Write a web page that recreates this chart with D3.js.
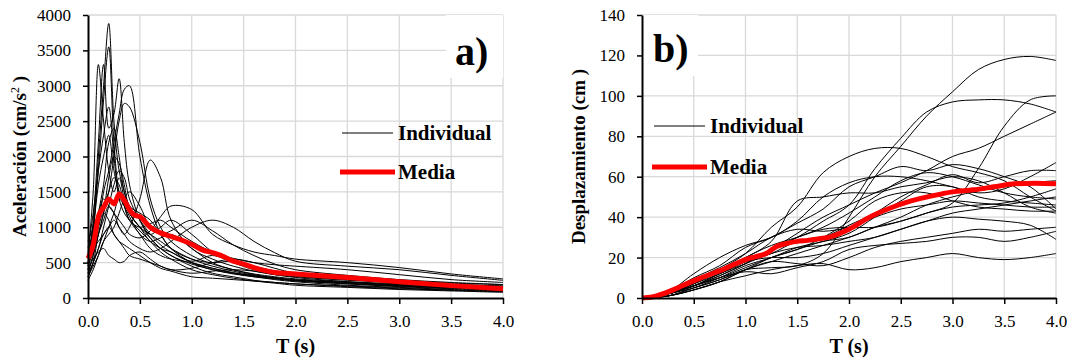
<!DOCTYPE html>
<html>
<head>
<meta charset="utf-8">
<script src="https://cdn.jsdelivr.net/npm/d3@7"></script>
<style>
body { margin: 0; background: #fff; }
svg text { font-family: "Liberation Serif", "DejaVu Serif", serif; fill: #000; }
</style>
</head>
<body>
<div id="chart"></div>
<script>
// periods (s)
var xTicks = [0, 0.5, 1, 1.5, 2, 2.5, 3, 3.5, 4];
var yTicksA = [0, 500, 1000, 1500, 2000, 2500, 3000, 3500, 4000];
var yTicksD = [0, 20, 40, 60, 80, 100, 120, 140];
var legendNames = ["Individual", "Media"];

// a) spectral acceleration, individual records (cm/s2)
var periodsA = [0, 0.05, 0.1, 0.15, 0.2, 0.25, 0.3, 0.35, 0.4, 0.5, 0.6, 0.7, 0.8, 1.0, 1.2, 1.4, 1.6, 1.8, 2.0, 2.5, 3.0, 3.5, 4.0];
var accRecords = [
	[400, 900, 2000, 3000, 3880, 2500, 1800, 1500, 1200, 1000, 800, 700, 600, 450, 350, 300, 250, 220, 200, 160, 130, 110, 90],
	[500, 1000, 1800, 2800, 3550, 2200, 1500, 1300, 1100, 900, 700, 600, 550, 500, 420, 350, 300, 260, 230, 180, 150, 120, 100],
	[600, 1500, 3300, 2500, 1800, 1500, 1700, 1400, 1200, 1000, 900, 800, 700, 550, 450, 380, 320, 280, 250, 210, 170, 140, 120],
	[450, 1100, 2200, 3300, 2400, 2600, 3100, 2200, 1600, 1100, 850, 700, 650, 500, 420, 360, 310, 280, 250, 220, 180, 150, 130],
	[350, 600, 1000, 1500, 1800, 2200, 2600, 2950, 3000, 2000, 1300, 900, 700, 500, 400, 350, 320, 290, 260, 220, 190, 160, 140],
	[300, 500, 900, 1200, 1500, 2000, 2500, 2750, 2700, 2200, 1400, 1000, 800, 600, 480, 400, 340, 300, 270, 230, 200, 170, 150],
	[400, 600, 900, 1100, 1300, 1200, 1000, 900, 1000, 1400, 1950, 1700, 1100, 700, 550, 450, 380, 330, 300, 250, 220, 190, 170],
	[700, 1200, 1800, 2300, 2700, 2000, 1400, 1200, 1100, 950, 800, 650, 550, 400, 330, 280, 240, 210, 180, 150, 120, 100, 80],
	[500, 800, 1200, 1600, 2200, 2400, 2000, 1500, 1300, 1100, 900, 750, 650, 520, 600, 500, 400, 350, 310, 260, 220, 190, 170],
	[600, 900, 1100, 1300, 1500, 1700, 1600, 1300, 1100, 1000, 1050, 1100, 1000, 800, 650, 560, 500, 470, 450, 400, 330, 260, 220],
	[800, 1000, 1200, 1400, 1300, 1200, 1100, 1000, 900, 850, 950, 1150, 1300, 1250, 900, 750, 650, 600, 550, 500, 430, 340, 270],
	[300, 500, 700, 900, 1000, 1100, 1000, 900, 800, 700, 650, 700, 800, 1000, 1100, 1000, 800, 640, 520, 450, 400, 320, 250],
	[250, 400, 600, 800, 900, 1000, 1200, 1400, 1500, 1300, 1000, 900, 950, 1100, 950, 750, 600, 480, 400, 320, 260, 220, 190],
	[400, 550, 650, 700, 600, 550, 500, 520, 600, 650, 550, 450, 400, 350, 380, 400, 380, 330, 290, 230, 180, 150, 120],
	[500, 700, 800, 900, 1000, 900, 800, 700, 600, 550, 500, 450, 400, 420, 500, 550, 500, 420, 350, 270, 210, 170, 140],
	[350, 500, 700, 1000, 1300, 1600, 1800, 1700, 1400, 1100, 900, 1000, 1100, 900, 650, 500, 420, 370, 330, 280, 240, 210, 190],
	[450, 650, 900, 1200, 1700, 2000, 1900, 1600, 1300, 1200, 1100, 900, 700, 550, 500, 520, 450, 380, 330, 270, 220, 180, 150],
	[550, 800, 1000, 1200, 1100, 900, 800, 750, 700, 600, 500, 420, 380, 300, 280, 260, 240, 220, 200, 170, 140, 110, 90],
	[300, 450, 600, 800, 1000, 1200, 1400, 1300, 1150, 900, 800, 850, 900, 700, 500, 400, 330, 280, 250, 200, 170, 140, 110],
	[650, 1000, 1600, 2000, 2300, 1800, 1500, 1400, 1200, 1000, 850, 700, 600, 480, 400, 340, 300, 270, 240, 200, 160, 130, 110]
];
// a) mean
var meanPeriodsA = [0, 0.05, 0.1, 0.15, 0.2, 0.25, 0.3, 0.35, 0.4, 0.45, 0.5, 0.6, 0.7, 0.8, 0.9, 1.0, 1.1, 1.2, 1.3, 1.4, 1.5, 1.6, 1.7, 1.8, 2.0, 2.5, 3.0, 3.5, 4.0];
var meanA = [560, 750, 1150, 1280, 1400, 1330, 1470, 1380, 1250, 1170, 1150, 1000, 920, 870, 820, 760, 680, 640, 590, 520, 480, 430, 390, 360, 340, 290, 230, 175, 130];

// b) spectral displacement, individual records (cm)
var periodsD = [0, 0.25, 0.5, 0.75, 1.0, 1.25, 1.5, 1.75, 2.0, 2.25, 2.5, 2.75, 3.0, 3.25, 3.5, 3.75, 4.0];
var dispRecords = [
	[0, 2, 5, 9, 14, 15, 16, 22, 40, 60, 75, 90, 102, 113, 118, 119.5, 117.5],
	[0, 2, 6, 12, 18, 24, 30, 38, 46, 64, 79, 92, 97, 98, 98, 96, 92],
	[0, 1, 4, 8, 14, 20, 24, 28, 30, 35, 38, 42, 47, 64, 85, 98, 100],
	[0, 2, 6, 11, 17, 24, 32, 40, 46, 52, 57, 63, 70, 74, 80, 86, 92],
	[0, 2, 7, 14, 22, 35, 45, 62, 70, 74, 74, 70, 65, 62, 58, 50, 43],
	[0, 3, 10, 16, 25, 30, 37, 44, 55, 60, 65, 63, 66, 64, 60, 55, 44],
	[0, 3, 12, 20, 26, 30, 38, 50, 57, 60, 60, 58, 55, 52, 54, 60, 67],
	[0, 2, 8, 14, 20, 28, 48, 50, 52, 52, 55, 57, 60, 58, 52, 45, 42],
	[0, 2, 7, 12, 18, 22, 28, 30, 36, 42, 50, 56, 61, 57, 60, 63, 63],
	[0, 1, 5, 10, 16, 20, 25, 28, 32, 40, 48, 55, 55, 50, 48, 47, 46],
	[0, 2, 6, 10, 15, 20, 24, 30, 38, 48, 52, 52, 48, 45, 44, 43, 43],
	[0, 1, 4, 8, 14, 18, 22, 26, 30, 35, 40, 46, 50, 53, 55, 57, 58],
	[0, 2, 8, 13, 20, 26, 30, 34, 35, 35, 38, 42, 45, 46, 47, 50, 54],
	[0, 2, 6, 12, 17, 22, 25, 26, 28, 30, 34, 38, 40, 39, 38, 36, 29],
	[0, 2, 7, 13, 18, 20, 20, 22, 26, 30, 34, 38, 42, 44, 46, 48, 50],
	[0, 1, 5, 9, 14, 18, 17, 16, 20, 25, 28, 30, 32, 34, 33, 34, 35],
	[0, 1, 4, 8, 11, 14, 16, 17, 14, 15, 18, 20, 22, 20, 19, 20, 22],
	[0, 2, 6, 10, 13, 12, 15, 18, 24, 26, 27, 28, 30, 30, 28, 30, 33],
	[0, 3, 9, 15, 22, 30, 34, 33, 35, 40, 44, 46, 48, 47, 46, 45, 45],
	[0, 2, 6, 11, 17, 24, 30, 35, 42, 50, 58, 62, 60, 56, 52, 50, 49]
];
// b) mean
var meanPeriodsD = [0, 0.1, 0.2, 0.3, 0.4, 0.5, 0.6, 0.7, 0.8, 0.9, 1.0, 1.1, 1.2, 1.3, 1.4, 1.5, 1.6, 1.7, 1.8, 2.0, 2.2, 2.4, 2.6, 2.8, 3.0, 3.2, 3.4, 3.6, 3.8, 4.0];
var meanD = [0, 0.5, 2, 4, 6.3, 8.5, 10.5, 12.5, 14.5, 16.8, 19, 20.5, 22, 25.5, 27, 28, 28.5, 29.2, 30, 34, 40, 44.5, 48, 50.5, 52.5, 53.5, 55, 56.5, 56.8, 56.5];

var w = 1075, h = 362;
var top_y = 15, bottom_y = 298;

var svg = d3.select("#chart")
	.append("svg")
	.attr("width", w)
	.attr("height", h);

drawPanel({
	left: 88, right: 503, yMax: 4000, yTicks: yTicksA,
	periods: periodsA, records: accRecords, meanPeriods: meanPeriodsA, mean: meanA,
	title: "a)", titleX: 455, titleY: 65, box: [446, 15, 57, 63],
	legendX: 342, legendY: 133, legendGap: 39,
	yTitle: ["Aceleración  (cm/s", "2", " )"], yTitleX: 19
});

drawPanel({
	left: 642, right: 1056, yMax: 140, yTicks: yTicksD,
	periods: periodsD, records: dispRecords, meanPeriods: meanPeriodsD, mean: meanD,
	title: "b)", titleX: 653, titleY: 62, box: [643, 15, 55, 61],
	legendX: 654, legendY: 126, legendGap: 41,
	yTitle: ["Desplazamiento (cm )"], yTitleX: 578
});

function drawPanel(cfg) {
	var g = svg.append("g");

	var xScale = d3.scaleLinear()
		.domain([0, 4])
		.range([cfg.left, cfg.right]);

	var yScale = d3.scaleLinear()
		.domain([0, cfg.yMax])
		.range([bottom_y, top_y]);

	// grid
	g.append("g").selectAll("line")
		.data(xTicks.slice(1))
		.enter()
		.append("line")
		.attr("x1", function(d) { return xScale(d); })
		.attr("x2", function(d) { return xScale(d); })
		.attr("y1", top_y)
		.attr("y2", bottom_y)
		.style("stroke", "#d9d9d9")
		.style("stroke-width", 1.3);

	g.append("g").selectAll("line")
		.data(cfg.yTicks.slice(1))
		.enter()
		.append("line")
		.attr("x1", cfg.left)
		.attr("x2", cfg.right)
		.attr("y1", function(d) { return yScale(d); })
		.attr("y2", function(d) { return yScale(d); })
		.style("stroke", "#d9d9d9")
		.style("stroke-width", 1.3);

	// white box behind the panel letter
	g.append("rect")
		.attr("x", cfg.box[0])
		.attr("y", cfg.box[1])
		.attr("width", cfg.box[2])
		.attr("height", cfg.box[3])
		.style("fill", "#fff");

	// individual records
	var line = d3.line()
		.x(function(d, i) { return xScale(cfg.periods[i]); })
		.y(function(d) { return yScale(d); })
		.curve(d3.curveCatmullRom.alpha(0.5));

	g.append("g").selectAll("path")
		.data(cfg.records)
		.enter()
		.append("path")
		.attr("d", line)
		.style("fill", "none")
		.style("stroke", "#000")
		.style("stroke-width", 1);

	// mean
	var meanLine = d3.line()
		.x(function(d, i) { return xScale(cfg.meanPeriods[i]); })
		.y(function(d) { return yScale(d); })
		.curve(d3.curveMonotoneX);

	g.append("path")
		.attr("d", meanLine(cfg.mean))
		.style("fill", "none")
		.style("stroke", "#ff0000")
		.style("stroke-width", 5)
		.style("stroke-linejoin", "round");

	// axes
	var xAxis = d3.axisBottom(xScale)
		.tickValues(xTicks)
		.tickSize(6)
		.tickSizeOuter(0)
		.tickPadding(11)
		.tickFormat(d3.format(".1f"));

	var xBar = g.append("g")
		.attr("transform", "translate(0," + bottom_y + ")")
		.call(xAxis);

	var yAxis = d3.axisLeft(yScale)
		.tickValues(cfg.yTicks)
		.tickSize(5)
		.tickSizeOuter(0)
		.tickPadding(12)
		.tickFormat(d3.format("d"));

	var yBar = g.append("g")
		.attr("transform", "translate(" + cfg.left + ",0)")
		.call(yAxis);

	[xBar, yBar].forEach(function(a) {
		a.attr("font-family", null);
		a.select(".domain").style("stroke", "#000").style("stroke-width", 2);
		a.selectAll(".tick line").style("stroke", "#000").style("stroke-width", 1.5);
		a.selectAll("text")
			.style("font-size", "17px")
			.attr("fill", "#000");
	});

	// axis titles
	g.append("text")
		.attr("x", (cfg.left + cfg.right) / 2)
		.attr("y", 353)
		.attr("text-anchor", "middle")
		.style("font-size", "20px")
		.style("font-weight", "bold")
		.text("T (s)");

	var yt = g.append("text")
		.attr("transform", "translate(" + cfg.yTitleX + "," + ((top_y + bottom_y) / 2) + ") rotate(-90)")
		.attr("y", 7)
		.attr("text-anchor", "middle")
		.style("font-size", "19px")
		.style("font-weight", "bold");
	yt.append("tspan").text(cfg.yTitle[0]);
	if (cfg.yTitle.length > 1) {
		yt.append("tspan")
			.attr("dy", -7)
			.style("font-size", "12px")
			.style("font-weight", "normal")
			.text(cfg.yTitle[1]);
		yt.append("tspan")
			.attr("dy", 7)
			.text(cfg.yTitle[2]);
	}

	// panel letter
	g.append("text")
		.attr("x", cfg.titleX)
		.attr("y", cfg.titleY)
		.style("font-size", "40px")
		.style("font-weight", "bold")
		.text(cfg.title);

	// legend
	var legend = g.append("g")
		.attr("transform", "translate(" + cfg.legendX + "," + cfg.legendY + ")");

	legend.append("line")
		.attr("x1", 0).attr("x2", 51)
		.attr("y1", 0).attr("y2", 0)
		.style("stroke", "#000")
		.style("stroke-width", 1);

	legend.append("line")
		.attr("x1", -2).attr("x2", 53)
		.attr("y1", cfg.legendGap).attr("y2", cfg.legendGap)
		.style("stroke", "#ff0000")
		.style("stroke-width", 5);

	legend.selectAll("text")
		.data(legendNames)
		.enter()
		.append("text")
		.attr("x", 56)
		.attr("y", function(d, i) { return i * cfg.legendGap + 7; })
		.style("font-size", "21px")
		.style("font-weight", "bold")
		.text(function(d) { return d; });
}
</script>
</body>
</html>
